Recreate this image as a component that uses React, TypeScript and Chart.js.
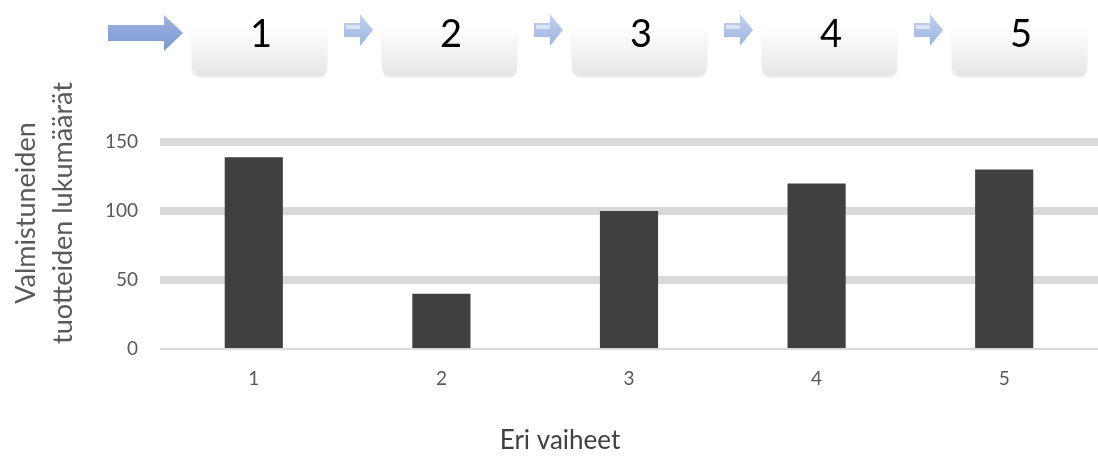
import React, { useEffect, useRef } from "react";
import { Chart, registerables } from "chart.js";

Chart.register(...registerables);

const categories = ["1", "2", "3", "4", "5"];
const values = [139, 40, 100, 120, 130];
const yTickValues = [0, 50, 100, 150];
const stepLabels = ["1", "2", "3", "4", "5"];
const yTitle = ["Valmistuneiden", "tuotteiden lukumäärät"];
const xTitle = "Eri vaiheet";

const FONT = "Lato, 'Open Sans', sans-serif";

const axisTitles = {
  id: "axisTitles",
  afterDraw(chart: any) {
    const ctx = chart.ctx as CanvasRenderingContext2D;
    ctx.save();
    ctx.textAlign = "center";
    ctx.textBaseline = "middle";
    // y title (two lines, rotated)
    ctx.fillStyle = "#595959";
    ctx.font = `27px ${FONT}`;
    const yCenter = 213;
    const xs = [26, 63];
    yTitle.forEach((line, i) => {
      ctx.save();
      ctx.translate(xs[i], yCenter);
      ctx.rotate(-Math.PI / 2);
      ctx.fillText(line, 0, 0);
      ctx.restore();
    });
    // x title
    ctx.fillStyle = "#404040";
    ctx.font = `26px ${FONT}`;
    ctx.fillText(xTitle, 560, 441);
    ctx.restore();
  },
};

function BigArrow() {
  return (
    <svg width="78" height="40" style={{ position: "absolute", left: 107, top: 13 }}>
      <defs>
        <linearGradient id="bgA" x1="0" y1="0" x2="0" y2="1">
          <stop offset="0" stopColor="#9db3e0" />
          <stop offset="1" stopColor="#7b97d0" />
        </linearGradient>
      </defs>
      <polygon points="1,12 57,12 57,2 76,20 57,38 57,28 1,28" fill="url(#bgA)" />
    </svg>
  );
}

function SmallArrow({ left }: { left: number }) {
  return (
    <svg width="32" height="36" style={{ position: "absolute", left, top: 12 }}>
      <defs>
        <linearGradient id={"sa" + left} x1="0" y1="0" x2="0" y2="1">
          <stop offset="0" stopColor="#c3d1ee" />
          <stop offset="1" stopColor="#9fb5e2" />
        </linearGradient>
      </defs>
      <polygon points="1,11 17,11 17,2 30,18 17,34 17,25 1,25" fill={"url(#sa" + left + ")"} />
      <rect x="3" y="13" width="14" height="4" fill="#e4ebf8" opacity="0.8" />
    </svg>
  );
}

export default function App() {
  const ref = useRef<HTMLCanvasElement | null>(null);

  useEffect(() => {
    if (!ref.current) return;
    const chart = new Chart(ref.current, {
      type: "bar",
      data: {
        labels: categories,
        datasets: [
          {
            data: values,
            backgroundColor: "#404040",
            categoryPercentage: 1,
            barPercentage: 0.31,
          },
        ],
      },
      options: {
        responsive: false,
        animation: false,
        layout: { padding: { top: 142, left: 0, right: 0, bottom: 0 } },
        plugins: { legend: { display: false }, tooltip: { enabled: false } },
        scales: {
          x: {
            afterFit: (s: any) => {
              s.height = 107;
            },
            grid: { display: false, drawTicks: false },
            border: { display: false },
            ticks: { color: "#595959", font: { family: FONT, size: 19 }, padding: 18 },
          },
          y: {
            min: 0,
            max: 150,
            afterBuildTicks: (s: any) => {
              s.ticks = yTickValues.map((v) => ({ value: v }));
            },
            afterFit: (s: any) => {
              s.width = 160;
            },
            grid: {
              color: "#d9d9d9",
              lineWidth: (ctx: any) => (ctx.tick && ctx.tick.value === 0 ? 2 : 8),
              drawTicks: false,
            },
            border: { display: false },
            ticks: { color: "#595959", font: { family: FONT, size: 19 }, padding: 22 },
          },
        },
      },
      plugins: [axisTitles],
    });
    return () => chart.destroy();
  }, []);

  return (
    <div style={{ position: "fixed", left: 0, top: 0, width: 1098, height: 456, background: "#fff" }}>
      <canvas ref={ref} width={1098} height={456} style={{ display: "block", position: "absolute", left: 0, top: 0 }} />
      <BigArrow />
      {stepLabels.map((s, i) => (
        <React.Fragment key={s}>
          {i > 0 && <SmallArrow left={343 + (i - 1) * 190} />}
          <div
            style={{
              position: "absolute",
              left: 192 + i * 190,
              top: 28,
              width: 135,
              height: 48,
              borderRadius: 8,
              background: "linear-gradient(#ffffff 0%, #f4f4f4 40%, #e6e6e6 100%)",
              boxShadow: "0 1px 2px rgba(0,0,0,0.12)",
            }}
          />
          <div
            style={{
              position: "absolute",
              left: 192 + i * 190,
              top: 8,
              width: 138,
              textAlign: "center",
              fontFamily: FONT,
              fontSize: 38,
              lineHeight: "48px",
              color: "#000",
            }}
          >
            {s}
          </div>
        </React.Fragment>
      ))}
    </div>
  );
}
